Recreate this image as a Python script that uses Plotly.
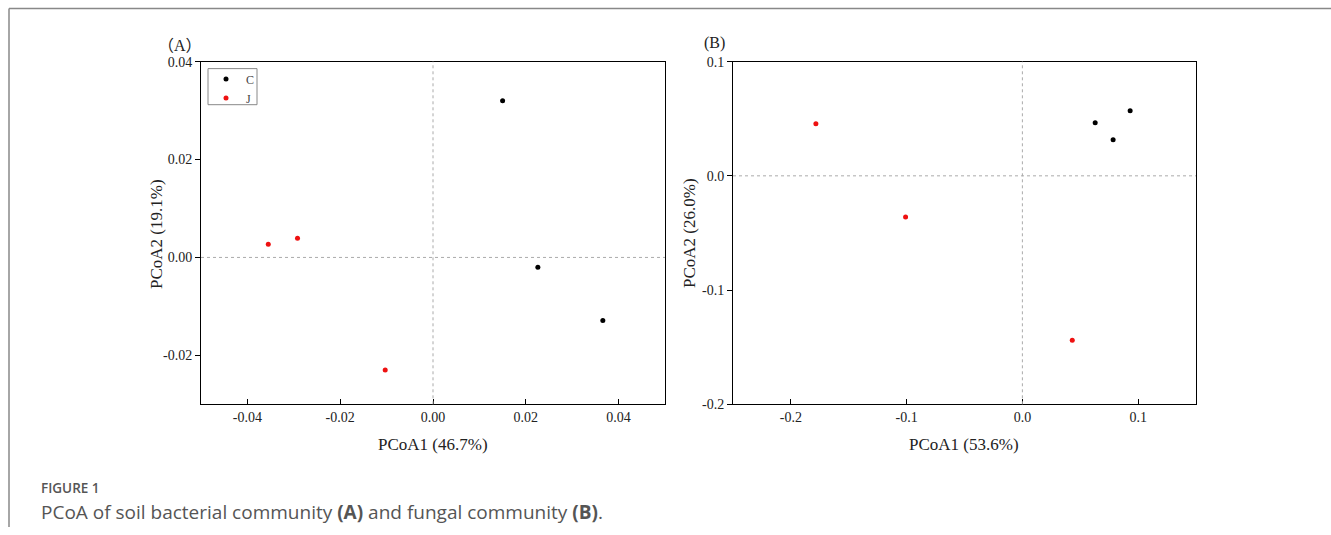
import plotly.graph_objects as go

W, H = 1331, 535
# empirical vertical calibration of the capture (observed = C + K * page_y)
K, C = 0.97, 7.5

# Panel A (bacterial)
a_groups = ["C", "J"]
a_c_x = [0.0150, 0.0226, 0.0366]
a_c_y = [0.0320, -0.0020, -0.0129]
a_j_x = [-0.0355, -0.0292, -0.0103]
a_j_y = [0.0027, 0.0039, -0.0230]

# Panel B (fungal)
b_c_x = [0.0629, 0.0784, 0.0931]
b_c_y = [0.0465, 0.0316, 0.0570]
b_j_x = [-0.1784, -0.1009, 0.0431]
b_j_y = [0.0456, -0.0360, -0.1439]

a_xticks = [-0.04, -0.02, 0.0, 0.02, 0.04]
a_xlabels = ["-0.04", "-0.02", "0.00", "0.02", "0.04"]
a_yticks = [-0.02, 0.0, 0.02, 0.04]
a_ylabels = ["-0.02", "0.00", "0.02", "0.04"]
b_xticks = [-0.2, -0.1, 0.0, 0.1]
b_xlabels = ["-0.2", "-0.1", "0.0", "0.1"]
b_yticks = [-0.2, -0.1, 0.0, 0.1]
b_ylabels = ["-0.2", "-0.1", "0.0", "0.1"]

SERIF = "Liberation Serif, Times New Roman, serif"
SANS = "Open Sans, Lato, sans-serif"
TXT = "#222"

def px(x):
    return x / W

def py(y):
    return 1 - ((y - C) / K) / H

fig = go.Figure()
mk = dict(size=5, line=dict(width=0))
RED = "#ee1111"
fig.add_trace(go.Scatter(x=a_c_x, y=a_c_y, mode="markers", name=a_groups[0],
                         marker=dict(color="black", **mk), xaxis="x", yaxis="y"))
fig.add_trace(go.Scatter(x=a_j_x, y=a_j_y, mode="markers", name=a_groups[1],
                         marker=dict(color=RED, **mk), xaxis="x", yaxis="y"))
fig.add_trace(go.Scatter(x=b_c_x, y=b_c_y, mode="markers", name=a_groups[0], showlegend=False,
                         marker=dict(color="black", **mk), xaxis="x2", yaxis="y2"))
fig.add_trace(go.Scatter(x=b_j_x, y=b_j_y, mode="markers", name=a_groups[1], showlegend=False,
                         marker=dict(color=RED, **mk), xaxis="x2", yaxis="y2"))

ax_common = dict(showline=True, linecolor="black", linewidth=1, mirror=True,
                 showgrid=False, zeroline=False, ticklen=5, tickcolor="black",
                 tickfont=dict(family=SERIF, size=14, color=TXT))

ydom = [py(404), py(62)]
fig.update_layout(
    width=W, height=H, margin=dict(l=0, r=0, t=0, b=0), autosize=False,
    paper_bgcolor="white", plot_bgcolor="white",
    xaxis=dict(domain=[px(201), px(665)], range=[-0.05, 0.05], tickvals=a_xticks, ticktext=a_xlabels,
               ticks="inside", anchor="y", ticklabelstandoff=0, **ax_common),
    yaxis=dict(domain=ydom, range=[-0.03, 0.04], tickvals=a_yticks, ticktext=a_ylabels,
               ticks="outside", anchor="x", **ax_common),
    xaxis2=dict(domain=[px(733), px(1196)], range=[-0.25, 0.15], tickvals=b_xticks, ticktext=b_xlabels,
                ticks="inside", anchor="y2", ticklabelstandoff=0, **ax_common),
    yaxis2=dict(domain=ydom, range=[-0.2, 0.1], tickvals=b_yticks, ticktext=b_ylabels,
                ticks="outside", anchor="x2", **ax_common),
    legend=dict(x=px(206), y=py(65), xanchor="left", yanchor="top",
                borderwidth=0, bgcolor="rgba(0,0,0,0)",
                font=dict(family=SERIF, size=12, color="#444"),
                itemwidth=30, tracegroupgap=0),
    showlegend=True,
)

shapes = []
for xr, yr in (("x", "y"), ("x2", "y2")):
    shapes.append(dict(type="line", xref=xr, yref=yr + " domain", x0=0, x1=0, y0=0, y1=1,
                       line=dict(color="#aaa", width=1, dash="dot")))
    shapes.append(dict(type="line", xref=xr + " domain", yref=yr, x0=0, x1=1, y0=0, y1=0,
                       line=dict(color="#aaa", width=1, dash="dot")))
# legend frame
shapes.append(dict(type="rect", xref="paper", yref="paper", x0=px(208), x1=px(257),
                   y0=py(105), y1=py(69), line=dict(color="#888", width=1),
                   fillcolor="white", layer="above"))
# page frame
shapes.append(dict(type="line", xref="paper", yref="paper", x0=px(9), x1=1, y0=py(9), y1=py(9),
                   line=dict(color="#888", width=1.5)))
shapes.append(dict(type="line", xref="paper", yref="paper", x0=px(9), x1=px(9), y0=py(9), y1=0,
                   line=dict(color="#888", width=1.5)))
fig.update_layout(shapes=shapes)

title_font = dict(family=SERIF, size=17, color=TXT)

def ann(text, x, y, font, xanchor="center", angle=0):
    return dict(text=text, x=px(x), y=py(y), xref="paper", yref="paper", showarrow=False,
                xanchor=xanchor, yanchor="middle", textangle=angle, font=font)

CJK = "<span style='font-family:Noto Sans CJK SC'>{}</span>"
panel_a = CJK.format("（") + "A" + CJK.format("）")

annotations = [
    ann("PCoA1 (46.7%)", 433, 444, title_font),
    ann("PCoA1 (53.6%)", 964, 444, title_font),
    ann("PCoA2 (19.1%)", 157, 234, title_font, angle=-90),
    ann("PCoA2 (26.0%)", 690, 233, title_font, angle=-90),
    ann(panel_a, 180, 44, dict(family=SERIF, size=16, color=TXT)),
    ann("(B)", 714, 43, dict(family=SERIF, size=16, color=TXT)),
    ann("FIGURE 1", 39, 488, dict(family=SANS, size=13.5, color="#555", weight=600), xanchor="left"),
    ann("PCoA of soil bacterial community <b>(A)</b> and fungal community <b>(B)</b>.",
        39, 511, dict(family=SANS, size=19, color="#555"), xanchor="left"),
]
fig.update_layout(annotations=annotations)

fig.write_html("out.html", config={"displayModeBar": False},
               post_script="document.body.style.margin='0';")
